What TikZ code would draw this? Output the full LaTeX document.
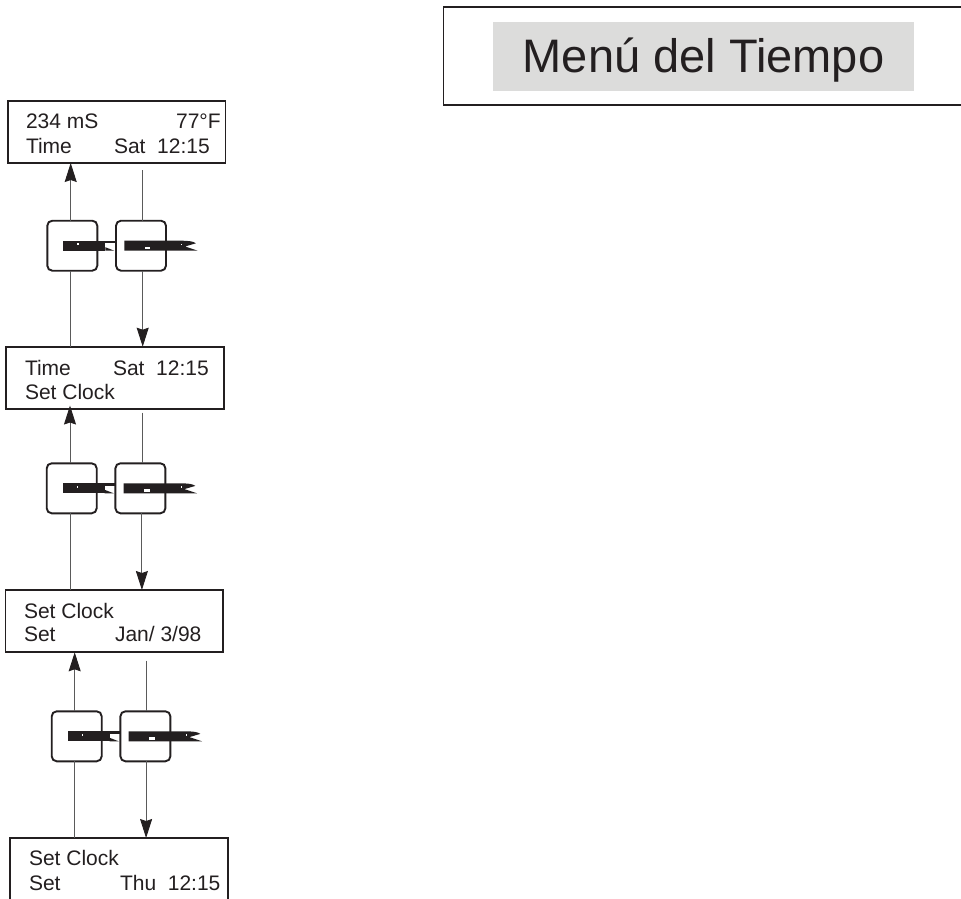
\documentclass[tikz,border=0pt]{standalone}
\usepackage{fontspec}
\setmainfont{Liberation Sans}
\usetikzlibrary{arrows.meta,calc}
\definecolor{ink}{HTML}{231F20}
\definecolor{barbg}{HTML}{DCDCDB}
\definecolor{wire}{HTML}{5A5A5A}
\tikzset{
  lcdbox/.style={draw=ink,line width=1.7pt,rectangle,inner sep=0pt,outer sep=0pt,anchor=north west,minimum width=#1},
  lcdtext/.style={inner sep=0pt,outer sep=0pt,anchor=base west,text=ink,font=\fontsize{21}{25}\selectfont},
  keybtn/.style={draw=ink,line width=1.9pt,fill=white,rectangle,rounded corners=5pt,minimum size=50pt,inner sep=0pt,outer sep=0pt,anchor=north west},
  wireline/.style={draw=wire,line width=0.9pt},
  wirearrow/.style={wireline,-{Stealth[length=19pt,width=12pt,inset=2pt,color=ink]}},
}
\newcommand{\KeyPair}[3]{%
  \begin{scope}[shift={(#2,#3)}]
    \node[keybtn] (L#1) at (0,0) {};
    \node[keybtn] (R#1) at (68.7,0) {};
    \fill[ink] (16,20) -- (58,20) -- (58,30) -- (16,30) -- cycle;
    \fill[ink] (58,20) rectangle (69,22.3);
    \fill[ink] (58,26.5) -- (58,30) -- (67,30) -- cycle;
    \fill[white] (30,22.6) rectangle (31.4,24.6);
    \fill[ink] (77,20) -- (132.7,20) .. controls (141,20) and (146,20.5) .. (148.6,22.6) -- (137.7,25.8) -- (150.4,30) -- (77,30) -- cycle;
    \fill[white] (97.7,26) rectangle (103,28.3);
    \fill[white] (134,23) rectangle (134.9,24.6);
  \end{scope}}
\begin{document}
\begin{tikzpicture}[x=1pt,y=-1pt]
\path[use as bounding box] (0,0) rectangle (961,899);
\clip (0,0) rectangle (961,899);
% title
\node[lcdbox=540pt,minimum height=98pt] (title) at (443.5,7) {};
\node[fill=barbg,rectangle,inner sep=0pt,outer sep=0pt,anchor=north west,minimum width=421pt,minimum height=69pt] (titlebar) at (493,22) {};
\node[inner sep=0pt,outer sep=0pt,anchor=base,text=ink,font=\fontsize{47}{50}\selectfont] (titletext) at (703.5,72.7) {Menú del Tiempo};
% displays
\node[lcdbox=217.5pt,minimum height=62.3pt] (box1) at (8,100.7) {};
\node[lcdbox=218pt,minimum height=62.3pt] (box2) at (6,346.7) {};
\node[lcdbox=217.5pt,minimum height=62.3pt] (box3) at (5.5,590) {};
\node[lcdbox=218pt,minimum height=80pt] (box4) at (10,838) {};
% display text
\node[lcdtext] (t1a) at (26,128.3) {234 mS};
\node[lcdtext,anchor=base east] (t1b) at (220.7,128.3) {77°F};
\node[lcdtext] (t1c) at (26,153.3) {Time};
\node[lcdtext] (t1d) at (114,153.3) {Sat~~12:15};
\node[lcdtext] (t2a) at (25,375.7) {Time};
\node[lcdtext] (t2b) at (113,375.7) {Sat~~12:15};
\node[lcdtext] (t2c) at (25,399) {Set Clock};
\node[lcdtext] (t3a) at (24,618.3) {Set Clock};
\node[lcdtext] (t3b) at (24,641.7) {Set};
\node[lcdtext] (t3c) at (115,641.7) {Jan/ 3/98};
\node[lcdtext] (t4a) at (29,865.7) {Set Clock};
\node[lcdtext] (t4b) at (29,890) {Set};
\node[lcdtext] (t4c) at (120,890) {Thu~~12:15};
% key pairs
\KeyPair{a}{47.3}{220.7}
\KeyPair{b}{46.7}{463.3}
\KeyPair{c}{51.7}{711.3}
% free ends below the displays
\coordinate (fa) at (142.7,170);
\coordinate (fb) at (142,412.7);
\coordinate (fc) at (146.7,660.7);
% connectors, pair a
\draw[wirearrow] ([xshift=-1.6pt]La.north) -- ([xshift=-1.6pt]La.north |- box1.south);
\draw[wireline] (fa) -- (fa |- Ra.north);
\draw[wireline] ([xshift=-1.6pt]La.south) -- ([xshift=-1.6pt]La.south |- box2.north);
\draw[wirearrow] ([xshift=1.7pt]Ra.south) -- ([xshift=1.7pt]Ra.south |- box2.north);
% pair b
\draw[wirearrow,shorten >=-3.5pt] ([xshift=-1.7pt]Lb.north) -- ([xshift=-1.7pt]Lb.north |- box2.south);
\draw[wireline] (fb) -- (fb |- Rb.north);
\draw[wireline] ([xshift=-1.7pt]Lb.south) -- ([xshift=-1.7pt]Lb.south |- box3.north);
\draw[wirearrow] ([xshift=1.5pt]Rb.south) -- ([xshift=1.5pt]Rb.south |- box3.north);
% pair c
\draw[wirearrow] ([xshift=-2pt]Lc.north) -- ([xshift=-2pt]Lc.north |- box3.south);
\draw[wireline] (fc) -- (fc |- Rc.north);
\draw[wireline] ([xshift=-2pt]Lc.south) -- ([xshift=-2pt]Lc.south |- box4.north);
\draw[wirearrow] ([xshift=0.7pt]Rc.south) -- ([xshift=0.7pt]Rc.south |- box4.north);
\end{tikzpicture}
\end{document}
